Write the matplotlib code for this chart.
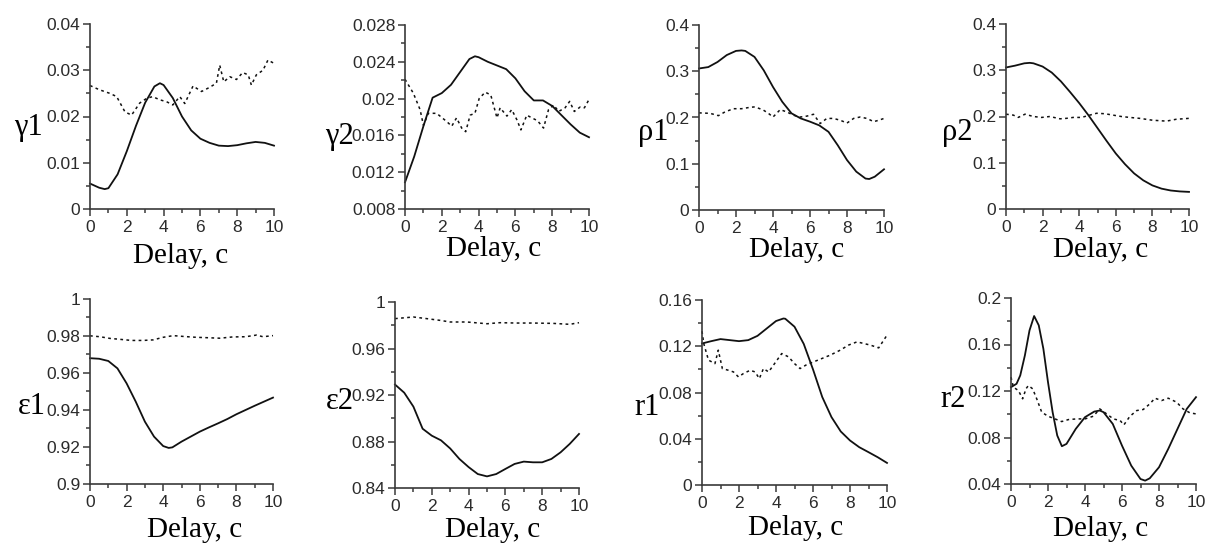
import matplotlib
matplotlib.use("Agg")
import matplotlib.pyplot as plt
from matplotlib.ticker import MultipleLocator, FuncFormatter

W, H = 1207, 544

# ---- data (x = delay, seconds) ----
g1_x = [0, 0.5, 0.8, 1.0, 1.5, 2.0, 2.5, 3.0, 3.5, 3.8, 4.0, 4.5, 5.0, 5.5, 6.0, 6.5, 7.0, 7.5, 8.0, 8.5, 9.0, 9.5, 10]
g1_y = [0.0055, 0.0046, 0.0043, 0.0045, 0.0075, 0.0125, 0.0180, 0.0230, 0.0265, 0.0272, 0.0268, 0.0240, 0.0200,
        0.0170, 0.0152, 0.0143, 0.0137, 0.0136, 0.0138, 0.0142, 0.0145, 0.0143, 0.0137]
g1_dx = [0, 0.5, 1.08, 1.45, 1.9, 2.26, 2.7, 3.07, 3.4, 3.8, 4.16, 4.5, 4.88, 5.15, 5.6, 6.06, 6.5, 6.87, 7.05,
         7.27, 7.6, 7.96, 8.3, 8.6, 8.77, 9.04, 9.4, 9.67, 10]
g1_dy = [0.0267, 0.0258, 0.0250, 0.0243, 0.0210, 0.0203, 0.0229, 0.0239, 0.0243, 0.0236, 0.0232, 0.0225, 0.0243,
         0.0228, 0.0266, 0.0254, 0.0263, 0.0272, 0.0311, 0.0275, 0.0286, 0.0280, 0.0295, 0.0290, 0.0268, 0.0290,
         0.0300, 0.0322, 0.0315]

g2_x = [0, 0.5, 1, 1.5, 2, 2.5, 3, 3.5, 3.8, 4, 4.5, 5, 5.5, 6, 6.5, 7, 7.5, 8, 8.5, 9, 9.5, 10]
g2_y = [0.0109, 0.0137, 0.0170, 0.0201, 0.0206, 0.0215, 0.0229, 0.0243, 0.0246, 0.0245, 0.0240, 0.0236, 0.0232,
        0.0222, 0.0208, 0.0198, 0.0198, 0.0192, 0.0182, 0.0172, 0.0163, 0.0158]
g2_dx = [0, 0.45, 0.82, 1.0, 1.27, 1.72, 2.27, 2.54, 2.8, 3.08, 3.3, 3.54, 3.8, 4.03, 4.36, 4.66, 5.0, 5.17, 5.54,
         5.8, 6.08, 6.3, 6.62, 6.9, 7.2, 7.53, 7.8, 8.08, 8.35, 8.7, 8.95, 9.2, 9.53, 9.75, 10]
g2_dy = [0.0221, 0.0206, 0.0188, 0.0171, 0.0184, 0.0184, 0.0175, 0.0170, 0.0179, 0.0168, 0.0164, 0.0182, 0.0184,
         0.0200, 0.0207, 0.0204, 0.0179, 0.0190, 0.0181, 0.0188, 0.0177, 0.0166, 0.0182, 0.0179, 0.0176, 0.0168,
         0.0188, 0.0193, 0.0186, 0.0190, 0.0197, 0.0186, 0.0191, 0.0190, 0.0199]

p1_x = [0, 0.5, 1, 1.5, 2, 2.3, 2.5, 3, 3.5, 4, 4.5, 5, 5.5, 6, 6.5, 7, 7.5, 8, 8.5, 9, 9.2, 9.5, 10]
p1_y = [0.306, 0.309, 0.320, 0.335, 0.344, 0.345, 0.344, 0.331, 0.302, 0.266, 0.234, 0.209, 0.198, 0.191, 0.183,
        0.169, 0.140, 0.108, 0.083, 0.068, 0.067, 0.072, 0.088]
p1_dx = [0, 0.6, 1.05, 1.4, 1.86, 2.3, 2.76, 3.03, 3.48, 3.75, 4.0, 4.39, 4.75, 5.1, 5.47, 5.83, 6.19, 6.55, 6.91,
         7.27, 7.64, 8.0, 8.36, 8.7, 9.08, 9.44, 9.71, 10]
p1_dy = [0.210, 0.209, 0.204, 0.212, 0.219, 0.219, 0.222, 0.223, 0.216, 0.209, 0.201, 0.217, 0.212, 0.205, 0.201,
         0.203, 0.207, 0.187, 0.198, 0.198, 0.194, 0.188, 0.198, 0.201, 0.198, 0.191, 0.194, 0.198]

p2_x = [0, 0.5, 1, 1.3, 1.5, 2, 2.5, 3, 3.5, 4, 4.5, 5, 5.5, 6, 6.5, 7, 7.5, 8, 8.5, 9, 9.5, 10]
p2_y = [0.306, 0.310, 0.315, 0.316, 0.315, 0.308, 0.295, 0.276, 0.253, 0.229, 0.203, 0.175, 0.147, 0.120, 0.097,
        0.077, 0.062, 0.051, 0.044, 0.040, 0.038, 0.037]
p2_dx = [0, 0.4, 0.67, 1.04, 1.49, 1.95, 2.4, 2.95, 3.3, 3.67, 4.13, 4.58, 4.95, 5.4, 5.85, 6.3, 6.76, 7.3, 8.0,
         8.76, 9.3, 10]
p2_dy = [0.205, 0.203, 0.198, 0.205, 0.200, 0.198, 0.200, 0.195, 0.196, 0.198, 0.198, 0.203, 0.207, 0.206, 0.203,
         0.200, 0.198, 0.196, 0.192, 0.190, 0.194, 0.196]

e1_x = [0, 0.5, 1, 1.5, 2, 2.5, 3, 3.5, 4, 4.3, 4.5, 5, 5.5, 6, 6.5, 7, 7.5, 8, 8.5, 9, 9.5, 10]
e1_y = [0.968, 0.9677, 0.9665, 0.9625, 0.9544, 0.9445, 0.9337, 0.9256, 0.9205, 0.9195, 0.9198, 0.9229, 0.9256,
        0.9283, 0.9306, 0.9328, 0.9351, 0.9377, 0.9400, 0.9423, 0.9445, 0.9467]
e1_dx = [0, 0.55, 1.09, 1.64, 2.27, 2.9, 3.45, 4.0, 4.55, 5.18, 5.8, 6.36, 7.1, 7.8, 8.5, 9.1, 9.45, 10]
e1_dy = [0.9801, 0.9796, 0.9787, 0.9782, 0.9776, 0.9776, 0.9779, 0.9793, 0.9802, 0.9797, 0.9793, 0.9791, 0.9788,
         0.9795, 0.9796, 0.9805, 0.9796, 0.9802]

e2_x = [0, 0.5, 1, 1.5, 2, 2.5, 3, 3.5, 4, 4.5, 5, 5.5, 6, 6.5, 7, 7.5, 8, 8.5, 9, 9.5, 10]
e2_y = [0.929, 0.922, 0.910, 0.891, 0.885, 0.881, 0.874, 0.865, 0.858, 0.852, 0.850, 0.852, 0.8564, 0.8607,
        0.8627, 0.8621, 0.8621, 0.865, 0.8707, 0.878, 0.8865]
e2_dx = [0, 1.0, 1.72, 2.45, 3.0, 3.9, 5.0, 5.7, 6.6, 7.5, 8.6, 9.5, 10]
e2_dy = [0.9857, 0.9871, 0.9857, 0.9842, 0.9828, 0.9828, 0.9813, 0.9822, 0.9819, 0.9819, 0.9816, 0.9808, 0.9822]

r1_x = [0, 0.5, 1, 1.5, 2, 2.5, 3, 3.5, 4, 4.4, 4.5, 5, 5.5, 6, 6.5, 7, 7.5, 8, 8.5, 9, 9.5, 10]
r1_y = [0.1224, 0.1244, 0.1262, 0.1253, 0.1244, 0.1253, 0.1290, 0.1354, 0.1418, 0.1440, 0.1438, 0.1369, 0.1220,
        0.1000, 0.0761, 0.0587, 0.0463, 0.0385, 0.0327, 0.0284, 0.0240, 0.0191]
r1_dx = [0, 0.1, 0.35, 0.7, 0.88, 1.1, 1.43, 1.7, 1.97, 2.24, 2.6, 2.87, 3.1, 3.32, 3.6, 3.86, 4.31, 4.68, 5.0,
         5.3, 5.67, 6.03, 6.39, 6.93, 7.47, 7.92, 8.38, 8.74, 9.1, 9.55, 10]
r1_dy = [0.133, 0.122, 0.108, 0.105, 0.1166, 0.1007, 0.0992, 0.0978, 0.0935, 0.0964, 0.0992, 0.0978, 0.0920,
         0.1007, 0.0978, 0.1036, 0.1137, 0.1108, 0.1050, 0.1007, 0.1042, 0.1065, 0.1088, 0.1123, 0.1166, 0.1210,
         0.1238, 0.1224, 0.1210, 0.1186, 0.1296]

r2_x = [0, 0.3, 0.5, 0.75, 1.0, 1.25, 1.5, 1.75, 2.0, 2.25, 2.5, 2.75, 3.0, 3.5, 4.0, 4.5, 4.8, 5.0, 5.5, 6.0,
        6.5, 7.0, 7.25, 7.5, 8.0, 8.5, 9.0, 9.5, 10]
r2_y = [0.1233, 0.1262, 0.1334, 0.1506, 0.1721, 0.1845, 0.1765, 0.1563, 0.1276, 0.1018, 0.0817, 0.0725, 0.0745,
        0.0874, 0.0975, 0.1023, 0.1032, 0.1018, 0.0917, 0.0730, 0.0558, 0.0443, 0.0429, 0.0449, 0.0544, 0.0702,
        0.0874, 0.1046, 0.1147]
r2_dx = [0, 0.13, 0.4, 0.63, 0.81, 0.94, 1.17, 1.39, 1.66, 2.0, 2.38, 2.74, 3.1, 3.55, 4.0, 4.45, 4.8, 5.17,
         5.53, 5.9, 6.1, 6.43, 6.8, 7.15, 7.5, 7.78, 8.14, 8.5, 8.95, 9.3, 9.67, 10]
r2_dy = [0.1319, 0.1233, 0.1204, 0.1133, 0.1219, 0.1247, 0.1219, 0.1133, 0.1018, 0.0983, 0.0960, 0.0937, 0.0954,
         0.0960, 0.0960, 0.0983, 0.1046, 0.1003, 0.0960, 0.0946, 0.0908, 0.0983, 0.1032, 0.1041, 0.1089, 0.1138,
         0.1118, 0.1138, 0.1104, 0.1046, 0.1012, 0.1003]

labels = ["γ1", "γ2", "ρ1", "ρ2", "ε1", "ε2", "r1", "r2"]
solid = [(g1_x, g1_y), (g2_x, g2_y), (p1_x, p1_y), (p2_x, p2_y),
         (e1_x, e1_y), (e2_x, e2_y), (r1_x, r1_y), (r2_x, r2_y)]
dotted = [(g1_dx, g1_dy), (g2_dx, g2_dy), (p1_dx, p1_dy), (p2_dx, p2_dy),
          (e1_dx, e1_dy), (e2_dx, e2_dy), (r1_dx, r1_dy), (r2_dx, r2_dy)]
# y range and major step for every panel
y_ranges = [(0, 0.04, 0.01), (0.008, 0.028, 0.004), (0, 0.4, 0.1), (0, 0.4, 0.1),
            (0.9, 1.0, 0.02), (0.84, 1.0, 0.04), (0, 0.16, 0.04), (0.04, 0.2, 0.04)]

# ---- layout, in pixels of the 1207x544 picture ----
# axes box: left, right, top, bottom
boxes = [(90, 274, 24, 209), (405, 589, 25, 209), (699, 884, 25, 210), (1006, 1189, 24, 209),
         (90, 273, 299, 484), (395, 579, 302, 488), (702, 887, 300, 485), (1011, 1196, 298, 484)]
# y label: right edge, baseline
ylab_pos = [(43, 135), (354, 144), (668, 140), (973, 140),
            (46, 414), (354, 409), (660, 415), (966, 407)]
# x label: centre, baseline
xlab_pos = [(181, 263), (494, 256), (797, 257), (1101, 257),
            (195, 537), (493, 537), (796, 535), (1101, 536)]

serif = ["Liberation Serif", "DejaVu Serif"]
plt.rcParams["font.family"] = ["Liberation Sans", "DejaVu Sans"]

fig = plt.figure(figsize=(W / 100, H / 100), dpi=100)
fmt = FuncFormatter(lambda v, p: f"{round(v, 6):g}")
axis_col = "#3a3a3a"

for i in range(8):
    l, r, t, b = boxes[i]
    ax = fig.add_axes([l / W, 1 - b / H, (r - l) / W, (b - t) / H])
    sx, sy = solid[i]
    dx, dy = dotted[i]
    ax.plot(sx, sy, color="#111111", lw=1.3, clip_on=False, solid_joinstyle="round")
    ax.plot(dx, dy, color="#111111", lw=1.1, ls=(0, (1.8, 2.2)), clip_on=False)

    y0, y1, step = y_ranges[i]
    ax.set_xlim(0, 10)
    ax.set_ylim(y0, y1)
    ax.xaxis.set_major_locator(MultipleLocator(2))
    ax.xaxis.set_minor_locator(MultipleLocator(1))
    ax.yaxis.set_major_locator(MultipleLocator(step))
    ax.yaxis.set_minor_locator(MultipleLocator(step / 2))
    ax.xaxis.set_major_formatter(fmt)
    ax.yaxis.set_major_formatter(fmt)

    for s in ["top", "right"]:
        ax.spines[s].set_visible(False)
    for s in ["left", "bottom"]:
        ax.spines[s].set_color(axis_col)
        ax.spines[s].set_linewidth(1.2)
    ax.tick_params(which="both", direction="out", color=axis_col, width=1.1,
                   labelsize=12.5, labelcolor="#2b2b2b")
    ax.tick_params(which="major", length=5)
    ax.tick_params(which="minor", length=3)
    ax.tick_params(axis="x", pad=3)
    ax.tick_params(axis="y", pad=2)

    yx, yb = ylab_pos[i]
    fig.text(yx / W, 1 - yb / H, labels[i], family=serif, fontsize=22,
             ha="right", va="baseline")
    xc, xb = xlab_pos[i]
    fig.text(xc / W, 1 - xb / H, "Delay, c", family=serif, fontsize=21,
             ha="center", va="baseline")

fig.savefig("out.png", dpi=100)
